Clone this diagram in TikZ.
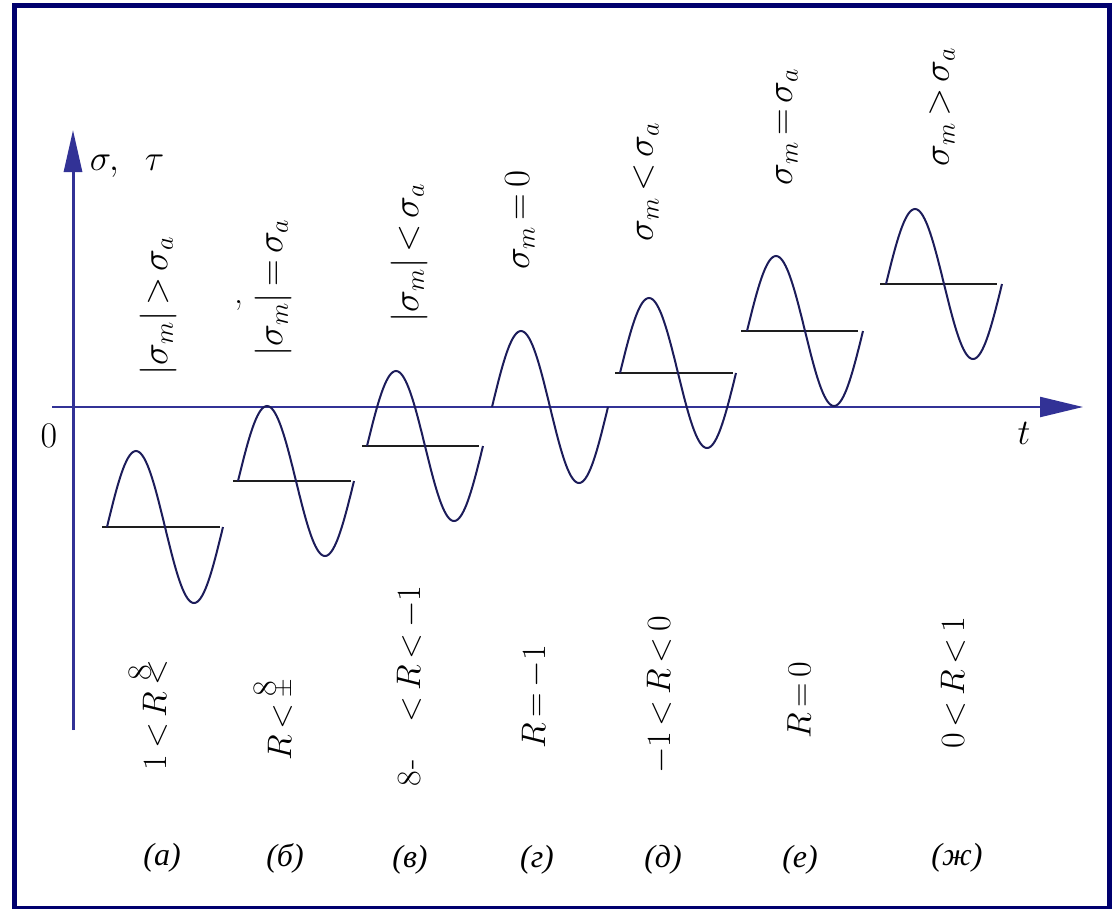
\RequirePackage{fix-cm}
\documentclass[tikz,border=0pt]{standalone}
\usepackage{amsmath}
\usepackage{fontspec}
\usetikzlibrary{arrows.meta}
\newfontfamily\cyrserif{Liberation Serif}
\definecolor{framecol}{RGB}{0,0,110}
\definecolor{axiscol}{RGB}{50,50,150}
\definecolor{wavecol}{RGB}{28,28,90}
\definecolor{meancol}{RGB}{30,30,30}
\newcommand{\eightover}[2]{\ooalign{\hfil#1\hfil\cr\hfil\raisebox{#2}{$8$}\hfil\cr}}
\newcommand{\tightmath}[1]{\thickmuskip=3mu\relax\medmuskip=2mu\relax$#1$}
\tikzset{
  wave/.style={wavecol, line width=2pt},
  meanline/.style={meancol, line width=2.6pt},
  axisline/.style={axiscol, fill=axiscol},
  toplab/.style={rotate=90, inner sep=0pt, font=\fontsize{34}{40}\selectfont},
  siglab/.style={rotate=90, inner sep=0pt, font=\fontsize{37}{42}\selectfont},
  plainlab/.style={inner sep=0pt, font=\fontsize{36}{42}\selectfont},
  cyrlab/.style={inner sep=0pt, font=\cyrserif\itshape\fontsize{32}{38}\selectfont},
}
\begin{document}
\begin{tikzpicture}[x=1pt,y=-1pt]
\useasboundingbox (0,0) rectangle (1114,908);
\fill[white] (0,0) rectangle (1114,908);
\draw[framecol, line width=5.5pt] (14.5,5.5) rectangle (1109.5,908.5);

% axes
\coordinate (yb) at (73,730);
\coordinate (yt) at (73,130);
\coordinate (xl) at (52,407);
\coordinate (xr) at (1083,407);
\draw[axisline, line width=3pt, -{Triangle[length=42pt,width=18pt]}] (yb) -- (yt);
\draw[axisline, line width=2.2pt, -{Triangle[length=43pt,width=20pt]}] (xl) -- (xr);

% mean lines
\draw[meanline] (102,527) -- (220,527);
\draw[meanline] (233,481) -- (351,481);
\draw[meanline] (362,446) -- (479,446);
\draw[meanline] (615,373) -- (733,373);
\draw[meanline] (741,331) -- (858,331);
\draw[meanline] (880,284) -- (997,284);

% waves
\draw[wave] plot[domain=0:360,samples=73,smooth] ({107+\x/360*116},{527-76*sin(\x)});
\draw[wave] plot[domain=0:360,samples=73,smooth] ({238+\x/360*116},{481-75*sin(\x)});
\draw[wave] plot[domain=0:360,samples=73,smooth] ({367+\x/360*116},{446-75*sin(\x)});
\draw[wave] plot[domain=0:360,samples=73,smooth] ({492+\x/360*116},{407-76*sin(\x)});
\draw[wave] plot[domain=0:360,samples=73,smooth] ({620+\x/360*116},{373-75*sin(\x)});
\draw[wave] plot[domain=0:360,samples=73,smooth] ({747+\x/360*116},{331-75*sin(\x)});
\draw[wave] plot[domain=0:360,samples=73,smooth] ({886+\x/360*116},{284-75*sin(\x)});

% axis labels
\node[plainlab] (st) at (127,166) {$\sigma,\;\;\tau$};
\node[plainlab] (o) at (49,436) {$0$};
\node[plainlab] (tt) at (1024,433) {$t$};

% top labels
\node[siglab] (sa) at (158,306) {\tightmath{|\sigma_m|>\sigma_a}};
\node[siglab] (sb) at (273,288) {\tightmath{|\sigma_m|=\sigma_a}};
\node[siglab] (sv) at (409,253) {\tightmath{|\sigma_m|<\sigma_a}};
\node[siglab] (sg) at (520,220) {\tightmath{\sigma_m=0}};
\node[siglab] (sd) at (646,182) {\tightmath{\sigma_m<\sigma_a}};
\node[siglab] (se) at (787,127) {\tightmath{\sigma_m=\sigma_a}};
\node[siglab] (sz) at (942,107) {\tightmath{\sigma_m>\sigma_a}};
\node[plainlab] (cm) at (239,306) {,};

% R labels
\node[toplab] (ra) at (155,715) {\tightmath{1<R\mathrel{\hbox{\eightover{$<$}{0.45em}}}}};
\node[toplab] (rb) at (280,720) {\tightmath{R<\hbox{\eightover{$\scriptstyle\pm$}{0.45em}}}};
\node[toplab] (rv) at (410,686) {8\kern1pt-\hspace{1.1em}\tightmath{<R<-1}};
\node[toplab] (rg) at (535,697) {\tightmath{R=-1}};
\node[toplab] (rd) at (660,695) {\tightmath{-1<R<0}};
\node[toplab] (re) at (799,700) {\tightmath{R=0}};
\node[toplab] (rz) at (953,683) {\tightmath{0<R<1}};

% case letters
\node[cyrlab] (la) at (162,858) {(а)};
\node[cyrlab] (lb) at (285,858) {(б)};
\node[cyrlab] (lv) at (410,860) {(в)};
\node[cyrlab] (lg) at (537,860) {(г)};
\node[cyrlab] (ld) at (663,860) {(д)};
\node[cyrlab] (le) at (800,860) {(е)};
\node[cyrlab] (lz) at (957,858) {(ж)};
\end{tikzpicture}
\end{document}
